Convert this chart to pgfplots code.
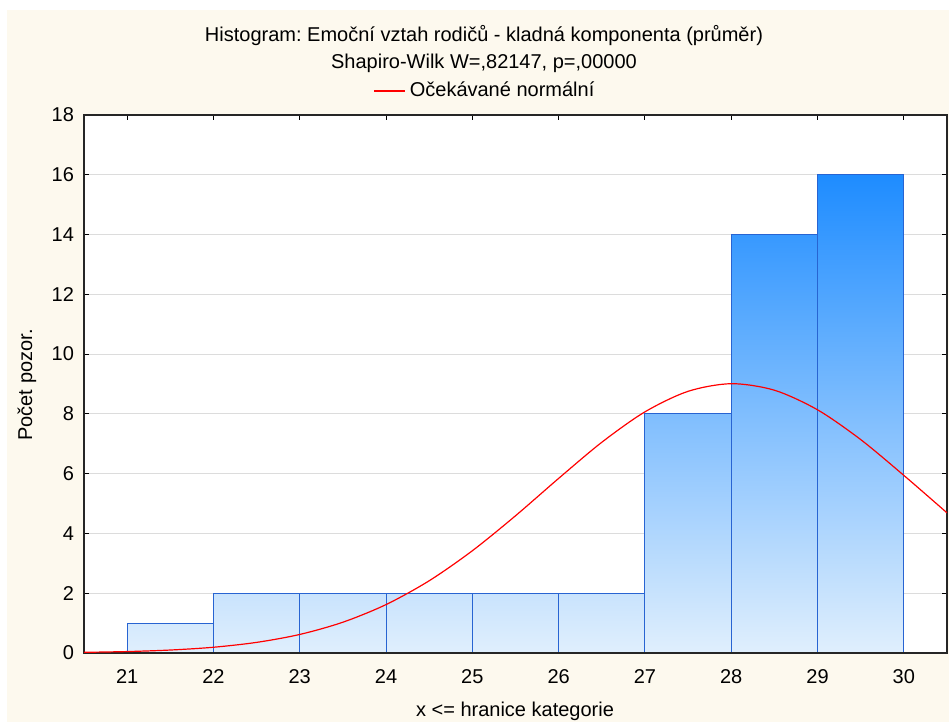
\documentclass[border=0pt]{standalone}
\usepackage{fontspec}
\setmainfont{Liberation Sans}
\usepackage{pgfplots}
\pgfplotsset{compat=1.18}
\frenchspacing

\definecolor{cream}{RGB}{253,249,238}
\definecolor{barlight}{RGB}{224,239,253}
\definecolor{bardark}{RGB}{30,140,255}
\definecolor{baredge}{RGB}{40,100,210}
\definecolor{gridgray}{RGB}{220,220,220}

\begin{document}
\begin{tikzpicture}[font=\fontsize{10}{12}\selectfont]
% 1px = 0.5pt, origin at the lower left corner of the axis
\useasboundingbox (-42pt,-34.5pt) rectangle (432.5pt,326.5pt);
\fill[white] (-42pt,-34.5pt) rectangle (432.5pt,326.5pt);
\fill[cream] (-38.5pt,-34.5pt) rectangle (432.5pt,321.5pt);

\begin{axis}[
    at={(0,0)}, anchor=south west,
    scale only axis,
    width=431.5pt, height=269pt,
    xmin=20.5, xmax=30.5,
    ymin=0, ymax=18,
    xtick={21,22,...,30},
    ytick={0,2,...,18},
    ymajorgrids,
    grid style={gridgray, line width=0.6pt},
    axis background/.style={fill=white},
    axis line style={line width=0.6pt, black!85},
    major tick length=2.5pt,
    tick style={line width=0.5pt, black},
    /pgf/number format/assume math mode=true,
    ticklabel style={font=\fontsize{10}{12}\selectfont},
    xticklabel style={yshift=-4.5pt},
    yticklabel style={xshift=-1.5pt},
    legend style={at={(0.4658,1.0446)}, anchor=center, draw=none, fill=none,
        font=\fontsize{10}{12}\selectfont},
    legend image code/.code={\draw[#1] (0pt,0pt) -- (15.5pt,0pt);},
    hbar/.style={ybar interval, draw=baredge, line width=0.5pt,
        bottom color=barlight, top color=bardark!#1!barlight, forget plot},
]
% one bar per plot so the gradient follows the y value (light at 0, dark at 16)
\addplot[hbar=6]   coordinates {(21,1) (22,1)};
\addplot[hbar=12]  coordinates {(22,2) (23,2)};
\addplot[hbar=12]  coordinates {(23,2) (24,2)};
\addplot[hbar=12]  coordinates {(24,2) (25,2)};
\addplot[hbar=12]  coordinates {(25,2) (26,2)};
\addplot[hbar=12]  coordinates {(26,2) (27,2)};
\addplot[hbar=50]  coordinates {(27,8) (28,8)};
\addplot[hbar=87]  coordinates {(28,14) (29,14)};
\addplot[hbar=100] coordinates {(29,16) (30,16)};

% bottom axis line again, over the bar outlines
\draw[black!85, line width=0.6pt] (rel axis cs:0,0) -- (rel axis cs:1,0);

\addplot[red, line width=0.6pt, smooth]
    coordinates {
    (20.5,0.022) (21,0.048) (21.5,0.099) (22,0.192) (22.5,0.355)
    (23,0.620) (23.5,1.030) (24,1.620) (24.5,2.417) (25,3.421)
    (25.5,4.591) (26,5.842) (26.5,7.050) (27,8.068) (27.5,8.755)
    (28,9.010) (28.5,8.792) (29,8.136) (29.5,7.140) (30,5.942) (30.5,4.689)
    };
\addlegendentry{Očekávané normální}
\end{axis}

\node[anchor=base] at (200pt,305.5pt) {Histogram: Emoční vztah rodičů - kladná komponenta (průměr)};
\node[anchor=base] at (200pt,292pt) {Shapiro-Wilk W=,82147, p=,00000};
\node[rotate=90, anchor=center] at (-28.5pt,134pt) {Počet pozor.};
\node[anchor=base] at (215.5pt,-32pt) {x <= hranice kategorie};
\end{tikzpicture}
\end{document}
